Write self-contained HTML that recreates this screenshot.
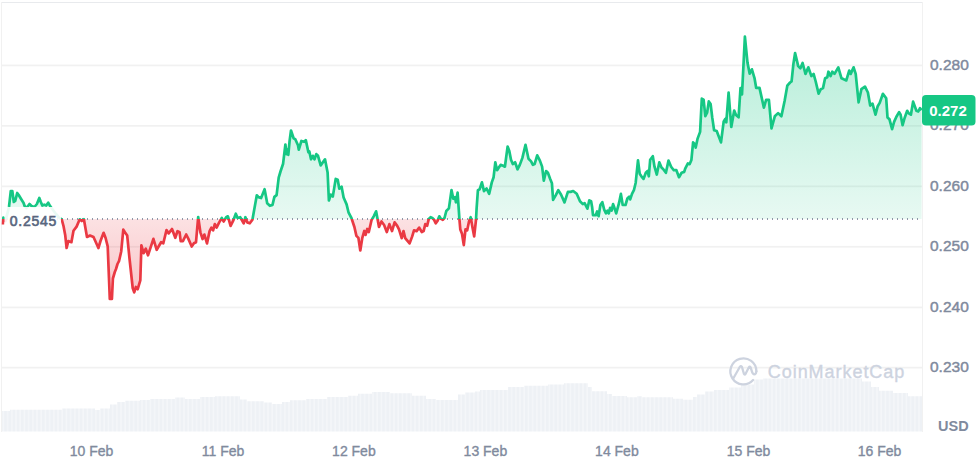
<!DOCTYPE html>
<html><head><meta charset="utf-8">
<style>
html,body{margin:0;padding:0;background:#fff;width:978px;height:458px;overflow:hidden}
svg{display:block}
text{font-family:"Liberation Sans",sans-serif}
.yl{font-size:15.5px;fill:#808a9d;stroke:#808a9d;stroke-width:0.45px}
.xl{font-size:14px;fill:#808a9d;stroke:#808a9d;stroke-width:0.35px}
</style></head><body>
<svg width="978" height="458" viewBox="0 0 978 458">
<defs>
<linearGradient id="gg" x1="0" y1="36" x2="0" y2="219.1" gradientUnits="userSpaceOnUse">
<stop offset="0" stop-color="#16c784" stop-opacity="0.32"/>
<stop offset="1" stop-color="#16c784" stop-opacity="0.1"/>
</linearGradient>
<linearGradient id="rg" x1="0" y1="219.1" x2="0" y2="299" gradientUnits="userSpaceOnUse">
<stop offset="0" stop-color="#ea3943" stop-opacity="0.15"/>
<stop offset="1" stop-color="#ea3943" stop-opacity="0.3"/>
</linearGradient>
<clipPath id="up"><rect x="0" y="0" width="922" height="219.1"/></clipPath>
<clipPath id="dn"><rect x="0" y="219.1" width="922" height="240"/></clipPath>
<pattern id="vp" x="0" y="0" width="4.2" height="10" patternUnits="userSpaceOnUse">
<rect x="0" y="0" width="4.2" height="10" fill="#eef1f5"/>
<rect x="2.6" y="0" width="1.6" height="10" fill="#f4f6f9"/>
</pattern>
</defs>
<rect x="0" y="0" width="978" height="458" fill="#fff"/>
<rect x="1" y="2" width="922" height="1" fill="#e8eaed"/>
<rect x="1" y="2" width="1" height="430" fill="#f1f1f1"/>
<rect x="922" y="2" width="1" height="430" fill="#f1f1f1"/>
<path d="M2 431.5 L2 411 L10 411 L10 409.8 L62 409.8 L62 408.5 L95 408.5 L95 410 L100 410 L100 408.5 L110 408.5 L110 404.4 L117 404.4 L117 402 L125 402 L125 400.7 L140 400.7 L140 400 L150 400 L150 399 L175 399 L175 397.5 L185 397.5 L185 399 L200 399 L200 397 L215 397 L215 396.3 L240 396.3 L240 399.4 L247 399.4 L247 401.2 L264 401.2 L264 402.4 L272 402.4 L272 403.9 L282 403.9 L282 402 L290 402 L290 400.2 L306 400.2 L306 399 L327 399 L327 397 L348 397 L348 395.8 L358 395.8 L358 393.8 L372 393.8 L372 392 L390 392 L390 393.3 L412 393.3 L412 395.8 L426 395.8 L426 399 L436 399 L436 400 L458 400 L458 394.5 L465 394.5 L465 392.6 L475 392.6 L475 391.4 L480 391.4 L480 390 L508 390 L508 387 L524 387 L524 385.8 L548 385.8 L548 384.5 L564 384.5 L564 383.3 L588 383.3 L588 387 L592 387 L592 391.2 L607 391.2 L607 393.9 L612 393.9 L612 396 L627 396 L627 397.3 L637 397.3 L637 396.3 L642 396.3 L642 397.3 L673 397.3 L673 398.8 L683 398.8 L683 399.8 L693 399.8 L693 397 L697 397 L697 394.4 L705 394.4 L705 391.4 L714 391.4 L714 390 L729 390 L729 387.5 L741 387.5 L741 384.5 L754 384.5 L754 379.6 L763 379.6 L763 378.4 L862 378.4 L862 381.6 L871 381.6 L871 387 L879 387 L879 390.7 L893 390.7 L893 393.1 L908 393.1 L908 396.3 L922 396.3 L922 431.5 Z" fill="url(#vp)"/>
<rect x="2" y="64.60" width="920" height="1.7" fill="#f1f1f1"/>
<rect x="2" y="125.00" width="920" height="1.7" fill="#f1f1f1"/>
<rect x="2" y="185.50" width="920" height="1.7" fill="#f1f1f1"/>
<rect x="2" y="245.90" width="920" height="1.7" fill="#f1f1f1"/>
<rect x="2" y="306.60" width="920" height="1.7" fill="#f1f1f1"/>
<rect x="2" y="366.80" width="920" height="1.7" fill="#f1f1f1"/>
<path d="M3 224.5 L3.4 217.5 L5.5 221 L9 207 L10.8 191 L12.3 191 L13.8 202 L15.2 201 L17.2 193 L18.7 195 L21.1 199 L23.6 203 L24.6 206 L26.5 208 L29.5 204 L31.5 206 L34.4 207 L36.9 204 L39.3 198 L40.8 202 L42.3 205.6 L44.2 204.7 L46.2 205.6 L48.2 202.7 L50.1 206.1 L53 210 L56 214 L59 217.5 L61.7 219.3 L63.5 226 L65.2 234.9 L66.6 248 L68.3 241.1 L71.4 242.2 L73.5 230.7 L76.6 226.6 L79.7 219.3 L81.8 221 L83.9 219.3 L87 237 L90 235.5 L93.5 237 L96.3 243.2 L98.4 248 L100.5 241 L103.6 232.8 L105.6 238 L107.7 246.3 L109.8 299 L111.9 299 L112.9 278.5 L114.8 272 L116 269 L117.5 264 L119.1 260.8 L121.2 251.5 L123.3 229.7 L124.9 232.3 L127.2 235.6 L129.4 257.5 L132.7 288 L134.2 292.4 L135.9 287 L137.7 289.2 L140.3 280.4 L141.4 245.4 L143.6 253.1 L145.8 248.7 L148 255.3 L153.4 238.9 L156.7 249.8 L161.1 242.2 L163.3 243.3 L166.5 230.1 L168.7 233.4 L172 229 L175.3 237.8 L177.5 231.2 L179.6 232.3 L180.7 241.1 L182.9 241.1 L186.2 234.5 L188.4 238.9 L191.7 246.5 L193.9 243.3 L196 242.2 L198.2 217 L200.4 232.3 L202.6 239 L204.4 234.6 L207 243.4 L209.6 231.1 L211.4 227.6 L213.1 230.3 L214.8 224.1 L216.6 227.6 L219.2 222.4 L221.8 218 L223.6 221.5 L226.2 217.2 L227.9 216.3 L230.6 225.9 L233.2 220.7 L235.8 213.7 L237.6 218 L240.2 217.2 L243.7 223.3 L245.4 217.2 L247.2 222.4 L249.8 223.3 L252.4 219.8 L256.8 195.3 L258.5 197.1 L261.1 198 L264.6 189.2 L267.2 203.2 L269.9 205.8 L272.5 204.9 L274.4 196.9 L276.6 195.1 L278.7 177.6 L280.5 171.5 L283.1 163.7 L285.4 144.5 L286.6 154.1 L287.5 149.7 L288.3 154.9 L289.6 141 L291 130.5 L293.6 138.3 L295.3 139.2 L298 145.3 L298.8 149.7 L301.4 141 L304.1 141.8 L305.8 140.1 L308.4 152.3 L309.3 151.4 L311 159.3 L312.8 155.8 L314.5 159.3 L316.3 154.1 L318 155.8 L320.7 165.4 L325 159.3 L327.6 172.4 L328.9 200.5 L330.8 194.6 L332.8 196.6 L335.7 178.9 L337.7 179.8 L339.3 188.7 L341.6 186.7 L343.6 197.5 L346.6 204.4 L348.5 212.3 L351.5 218.2 L354.4 227 L356.4 235.9 L358.4 237.9 L360.3 250.5 L362.3 237.9 L364.3 231 L365.6 234.9 L367.2 229 L368.8 232 L371.5 220.2 L373.7 216.3 L376.1 211.3 L377.4 218.2 L379 227 L381.5 221.5 L384.1 225 L386.8 232 L389.4 224.1 L392 231.1 L394.6 222.4 L397.2 225.9 L399 229.4 L401.7 238.1 L403.5 231.1 L405.2 238.1 L409.6 243.4 L412.2 236.4 L414 230.3 L416.6 231.1 L419.2 227.6 L421.8 232 L423.6 231.1 L425.3 224.1 L427.1 225.9 L428.8 218.9 L430.6 217.2 L432.3 218 L434.1 219.8 L435.8 223.3 L437.6 220.7 L439.3 216.3 L441 218.9 L442.8 219.8 L444.5 218 L446.3 211 L448.9 208.4 L451.5 190.1 L453.3 198.8 L455 197.1 L455.9 202.3 L457.6 192.7 L459.4 218.9 L460.3 229.4 L462 233.8 L463.8 245.1 L465.5 229.4 L467.2 230.3 L469 221.5 L470.7 217.2 L472.5 227.6 L474.2 236.4 L476 219.8 L476.6 208.6 L477.9 190.3 L479.6 189.4 L481.9 182.4 L484 191.1 L486.6 188.5 L489.2 193.8 L491.8 182.4 L493.6 177.2 L495.3 162.3 L497.1 170.2 L498.8 167.6 L500.6 164.9 L503.2 165.8 L504.9 166.7 L507.6 146.6 L509.3 151 L511 159.7 L512.8 164.1 L515.1 162.3 L517.5 169.3 L519.8 164.9 L522.4 157.9 L525.5 144.8 L528.5 158.8 L531.1 161.4 L532.9 164.9 L534.6 164.1 L537.2 155.3 L539.9 160.6 L542.1 166.6 L543.8 180.6 L546.1 171 L547.9 172.7 L550.1 178.8 L551.9 183.2 L553.1 199.8 L555.7 195.4 L558.3 190.2 L561 194.5 L564.5 202.4 L567.9 191.9 L570.6 191.9 L573.2 191 L576.7 193.7 L580 201.3 L582.8 204.1 L584.6 203.2 L587.4 208.7 L589.3 200.4 L591.1 201.3 L592.1 206.9 L593 215.2 L595.8 215.2 L597.1 211.5 L598.6 216.2 L600.4 205 L602.3 202.2 L604.2 209.7 L606 213.4 L607.5 210.6 L608.8 213.4 L610.1 207.8 L611.6 210.6 L613.1 204.1 L614.4 207.8 L616.2 213.4 L619 203.2 L620.9 193.9 L622.7 205 L625.5 205 L627.4 198.5 L629.2 196.7 L630.2 199.4 L632 193.9 L633.9 190.2 L635.7 182.7 L638 160.4 L639.7 173.7 L641.4 176.3 L643.5 178.9 L645.8 172.8 L647.6 171 L648.8 176.3 L650.2 159.7 L652.8 156.2 L654.5 166.7 L656.8 174.5 L659.3 162.3 L661.5 167.6 L663.3 169.3 L665.9 172.8 L668.5 160.6 L671.1 166.7 L673.8 170.2 L676.4 170.2 L679 177.2 L681.6 172.8 L684.2 171.9 L685.2 168.6 L687.9 163.4 L689.6 164.2 L691.4 159.9 L693.1 142.4 L694.8 144.1 L695.7 147.6 L697.5 138.9 L700.1 131.9 L701.8 98.7 L703.6 99.6 L705.3 116.2 L707.1 112.7 L708.8 101.4 L710.6 104 L712.3 117.9 L714.1 130.2 L716.7 131 L718.4 135.4 L721 142.4 L723.7 121.4 L725.4 118.8 L726.3 122.3 L728.6 92.6 L731.3 127 L734.2 110.5 L736 115 L738.6 117.3 L740.5 88 L742 94.5 L744.9 36.6 L747.5 62.8 L749.7 73.7 L751.9 69.3 L754.5 78.1 L756.2 87.9 L759.5 87.9 L763.9 107.6 L766.1 99.9 L768.9 99.9 L771.5 128.4 L774.8 116.3 L778.1 113.1 L781.4 116.3 L784.6 101 L787.3 85.7 L790.1 82.5 L791.6 81.4 L793.4 63.9 L795.1 53 L798.2 66.1 L800.4 68.3 L802.6 63 L805.5 73.9 L808.3 67.3 L811.4 76.1 L813.6 73.9 L815.7 81.5 L818.6 93.6 L820.8 89.2 L823 88.1 L825.1 78.3 L827.3 77.2 L828.4 71.7 L830.6 76.1 L832.3 71.7 L834.5 73.9 L838.3 67.3 L841.5 78.3 L843.7 79.3 L846.3 80.4 L849.2 70.6 L850.7 73.9 L853.6 67.3 L855.7 73.9 L858.6 102.3 L861.4 89.2 L865 86.6 L867.9 92.5 L870.2 105.6 L872.5 103.6 L875.5 114.7 L877.7 106.2 L879.7 102.9 L882.9 93.8 L886.2 98.3 L887.5 117.4 L889.5 119.3 L892.1 129.1 L894.1 121.9 L896.4 116.7 L899.1 112.1 L900.6 114.7 L902.6 125.2 L904.6 118 L907.2 110.8 L908.8 113.4 L910.9 114.7 L913.1 101.6 L916.4 110.8 L918.3 111.5 L920 108.2 L921.6 110.1 L921.6 219.1 L3 219.1 Z" fill="url(#gg)" clip-path="url(#up)"/>
<path d="M3 224.5 L3.4 217.5 L5.5 221 L9 207 L10.8 191 L12.3 191 L13.8 202 L15.2 201 L17.2 193 L18.7 195 L21.1 199 L23.6 203 L24.6 206 L26.5 208 L29.5 204 L31.5 206 L34.4 207 L36.9 204 L39.3 198 L40.8 202 L42.3 205.6 L44.2 204.7 L46.2 205.6 L48.2 202.7 L50.1 206.1 L53 210 L56 214 L59 217.5 L61.7 219.3 L63.5 226 L65.2 234.9 L66.6 248 L68.3 241.1 L71.4 242.2 L73.5 230.7 L76.6 226.6 L79.7 219.3 L81.8 221 L83.9 219.3 L87 237 L90 235.5 L93.5 237 L96.3 243.2 L98.4 248 L100.5 241 L103.6 232.8 L105.6 238 L107.7 246.3 L109.8 299 L111.9 299 L112.9 278.5 L114.8 272 L116 269 L117.5 264 L119.1 260.8 L121.2 251.5 L123.3 229.7 L124.9 232.3 L127.2 235.6 L129.4 257.5 L132.7 288 L134.2 292.4 L135.9 287 L137.7 289.2 L140.3 280.4 L141.4 245.4 L143.6 253.1 L145.8 248.7 L148 255.3 L153.4 238.9 L156.7 249.8 L161.1 242.2 L163.3 243.3 L166.5 230.1 L168.7 233.4 L172 229 L175.3 237.8 L177.5 231.2 L179.6 232.3 L180.7 241.1 L182.9 241.1 L186.2 234.5 L188.4 238.9 L191.7 246.5 L193.9 243.3 L196 242.2 L198.2 217 L200.4 232.3 L202.6 239 L204.4 234.6 L207 243.4 L209.6 231.1 L211.4 227.6 L213.1 230.3 L214.8 224.1 L216.6 227.6 L219.2 222.4 L221.8 218 L223.6 221.5 L226.2 217.2 L227.9 216.3 L230.6 225.9 L233.2 220.7 L235.8 213.7 L237.6 218 L240.2 217.2 L243.7 223.3 L245.4 217.2 L247.2 222.4 L249.8 223.3 L252.4 219.8 L256.8 195.3 L258.5 197.1 L261.1 198 L264.6 189.2 L267.2 203.2 L269.9 205.8 L272.5 204.9 L274.4 196.9 L276.6 195.1 L278.7 177.6 L280.5 171.5 L283.1 163.7 L285.4 144.5 L286.6 154.1 L287.5 149.7 L288.3 154.9 L289.6 141 L291 130.5 L293.6 138.3 L295.3 139.2 L298 145.3 L298.8 149.7 L301.4 141 L304.1 141.8 L305.8 140.1 L308.4 152.3 L309.3 151.4 L311 159.3 L312.8 155.8 L314.5 159.3 L316.3 154.1 L318 155.8 L320.7 165.4 L325 159.3 L327.6 172.4 L328.9 200.5 L330.8 194.6 L332.8 196.6 L335.7 178.9 L337.7 179.8 L339.3 188.7 L341.6 186.7 L343.6 197.5 L346.6 204.4 L348.5 212.3 L351.5 218.2 L354.4 227 L356.4 235.9 L358.4 237.9 L360.3 250.5 L362.3 237.9 L364.3 231 L365.6 234.9 L367.2 229 L368.8 232 L371.5 220.2 L373.7 216.3 L376.1 211.3 L377.4 218.2 L379 227 L381.5 221.5 L384.1 225 L386.8 232 L389.4 224.1 L392 231.1 L394.6 222.4 L397.2 225.9 L399 229.4 L401.7 238.1 L403.5 231.1 L405.2 238.1 L409.6 243.4 L412.2 236.4 L414 230.3 L416.6 231.1 L419.2 227.6 L421.8 232 L423.6 231.1 L425.3 224.1 L427.1 225.9 L428.8 218.9 L430.6 217.2 L432.3 218 L434.1 219.8 L435.8 223.3 L437.6 220.7 L439.3 216.3 L441 218.9 L442.8 219.8 L444.5 218 L446.3 211 L448.9 208.4 L451.5 190.1 L453.3 198.8 L455 197.1 L455.9 202.3 L457.6 192.7 L459.4 218.9 L460.3 229.4 L462 233.8 L463.8 245.1 L465.5 229.4 L467.2 230.3 L469 221.5 L470.7 217.2 L472.5 227.6 L474.2 236.4 L476 219.8 L476.6 208.6 L477.9 190.3 L479.6 189.4 L481.9 182.4 L484 191.1 L486.6 188.5 L489.2 193.8 L491.8 182.4 L493.6 177.2 L495.3 162.3 L497.1 170.2 L498.8 167.6 L500.6 164.9 L503.2 165.8 L504.9 166.7 L507.6 146.6 L509.3 151 L511 159.7 L512.8 164.1 L515.1 162.3 L517.5 169.3 L519.8 164.9 L522.4 157.9 L525.5 144.8 L528.5 158.8 L531.1 161.4 L532.9 164.9 L534.6 164.1 L537.2 155.3 L539.9 160.6 L542.1 166.6 L543.8 180.6 L546.1 171 L547.9 172.7 L550.1 178.8 L551.9 183.2 L553.1 199.8 L555.7 195.4 L558.3 190.2 L561 194.5 L564.5 202.4 L567.9 191.9 L570.6 191.9 L573.2 191 L576.7 193.7 L580 201.3 L582.8 204.1 L584.6 203.2 L587.4 208.7 L589.3 200.4 L591.1 201.3 L592.1 206.9 L593 215.2 L595.8 215.2 L597.1 211.5 L598.6 216.2 L600.4 205 L602.3 202.2 L604.2 209.7 L606 213.4 L607.5 210.6 L608.8 213.4 L610.1 207.8 L611.6 210.6 L613.1 204.1 L614.4 207.8 L616.2 213.4 L619 203.2 L620.9 193.9 L622.7 205 L625.5 205 L627.4 198.5 L629.2 196.7 L630.2 199.4 L632 193.9 L633.9 190.2 L635.7 182.7 L638 160.4 L639.7 173.7 L641.4 176.3 L643.5 178.9 L645.8 172.8 L647.6 171 L648.8 176.3 L650.2 159.7 L652.8 156.2 L654.5 166.7 L656.8 174.5 L659.3 162.3 L661.5 167.6 L663.3 169.3 L665.9 172.8 L668.5 160.6 L671.1 166.7 L673.8 170.2 L676.4 170.2 L679 177.2 L681.6 172.8 L684.2 171.9 L685.2 168.6 L687.9 163.4 L689.6 164.2 L691.4 159.9 L693.1 142.4 L694.8 144.1 L695.7 147.6 L697.5 138.9 L700.1 131.9 L701.8 98.7 L703.6 99.6 L705.3 116.2 L707.1 112.7 L708.8 101.4 L710.6 104 L712.3 117.9 L714.1 130.2 L716.7 131 L718.4 135.4 L721 142.4 L723.7 121.4 L725.4 118.8 L726.3 122.3 L728.6 92.6 L731.3 127 L734.2 110.5 L736 115 L738.6 117.3 L740.5 88 L742 94.5 L744.9 36.6 L747.5 62.8 L749.7 73.7 L751.9 69.3 L754.5 78.1 L756.2 87.9 L759.5 87.9 L763.9 107.6 L766.1 99.9 L768.9 99.9 L771.5 128.4 L774.8 116.3 L778.1 113.1 L781.4 116.3 L784.6 101 L787.3 85.7 L790.1 82.5 L791.6 81.4 L793.4 63.9 L795.1 53 L798.2 66.1 L800.4 68.3 L802.6 63 L805.5 73.9 L808.3 67.3 L811.4 76.1 L813.6 73.9 L815.7 81.5 L818.6 93.6 L820.8 89.2 L823 88.1 L825.1 78.3 L827.3 77.2 L828.4 71.7 L830.6 76.1 L832.3 71.7 L834.5 73.9 L838.3 67.3 L841.5 78.3 L843.7 79.3 L846.3 80.4 L849.2 70.6 L850.7 73.9 L853.6 67.3 L855.7 73.9 L858.6 102.3 L861.4 89.2 L865 86.6 L867.9 92.5 L870.2 105.6 L872.5 103.6 L875.5 114.7 L877.7 106.2 L879.7 102.9 L882.9 93.8 L886.2 98.3 L887.5 117.4 L889.5 119.3 L892.1 129.1 L894.1 121.9 L896.4 116.7 L899.1 112.1 L900.6 114.7 L902.6 125.2 L904.6 118 L907.2 110.8 L908.8 113.4 L910.9 114.7 L913.1 101.6 L916.4 110.8 L918.3 111.5 L920 108.2 L921.6 110.1 L921.6 219.1 L3 219.1 Z" fill="url(#rg)" clip-path="url(#dn)"/>
<g transform="translate(743.4 371.3)" fill="none" stroke="#cdd3df" stroke-width="2.3" stroke-linecap="round" stroke-linejoin="round">
<path d="M13 0 A13 13 0 1 0 9.7 8.7"/>
<path d="M-10 7 L-3.5 -4.5 Q-2.5 -6 -1.5 -4.5 L0.5 2.5 Q1.2 4 2.2 2.5 L5.5 -4 Q6.3 -5.5 7.2 -4 L9 1.5 Q10.5 4.5 12.5 2 L13 0"/>
</g>
<text x="767.8" y="377.8" font-size="18" fill="#cdd3df" stroke="#cdd3df" stroke-width="0.35" letter-spacing="0.95">CoinMarketCap</text>
<line x1="2" y1="219" x2="921" y2="219" stroke="#8f97a8" stroke-width="2" stroke-dasharray="1 4"/>
<path d="M3 224.5 L3.4 217.5 L5.5 221 L9 207 L10.8 191 L12.3 191 L13.8 202 L15.2 201 L17.2 193 L18.7 195 L21.1 199 L23.6 203 L24.6 206 L26.5 208 L29.5 204 L31.5 206 L34.4 207 L36.9 204 L39.3 198 L40.8 202 L42.3 205.6 L44.2 204.7 L46.2 205.6 L48.2 202.7 L50.1 206.1 L53 210 L56 214 L59 217.5 L61.7 219.3 L63.5 226 L65.2 234.9 L66.6 248 L68.3 241.1 L71.4 242.2 L73.5 230.7 L76.6 226.6 L79.7 219.3 L81.8 221 L83.9 219.3 L87 237 L90 235.5 L93.5 237 L96.3 243.2 L98.4 248 L100.5 241 L103.6 232.8 L105.6 238 L107.7 246.3 L109.8 299 L111.9 299 L112.9 278.5 L114.8 272 L116 269 L117.5 264 L119.1 260.8 L121.2 251.5 L123.3 229.7 L124.9 232.3 L127.2 235.6 L129.4 257.5 L132.7 288 L134.2 292.4 L135.9 287 L137.7 289.2 L140.3 280.4 L141.4 245.4 L143.6 253.1 L145.8 248.7 L148 255.3 L153.4 238.9 L156.7 249.8 L161.1 242.2 L163.3 243.3 L166.5 230.1 L168.7 233.4 L172 229 L175.3 237.8 L177.5 231.2 L179.6 232.3 L180.7 241.1 L182.9 241.1 L186.2 234.5 L188.4 238.9 L191.7 246.5 L193.9 243.3 L196 242.2 L198.2 217 L200.4 232.3 L202.6 239 L204.4 234.6 L207 243.4 L209.6 231.1 L211.4 227.6 L213.1 230.3 L214.8 224.1 L216.6 227.6 L219.2 222.4 L221.8 218 L223.6 221.5 L226.2 217.2 L227.9 216.3 L230.6 225.9 L233.2 220.7 L235.8 213.7 L237.6 218 L240.2 217.2 L243.7 223.3 L245.4 217.2 L247.2 222.4 L249.8 223.3 L252.4 219.8 L256.8 195.3 L258.5 197.1 L261.1 198 L264.6 189.2 L267.2 203.2 L269.9 205.8 L272.5 204.9 L274.4 196.9 L276.6 195.1 L278.7 177.6 L280.5 171.5 L283.1 163.7 L285.4 144.5 L286.6 154.1 L287.5 149.7 L288.3 154.9 L289.6 141 L291 130.5 L293.6 138.3 L295.3 139.2 L298 145.3 L298.8 149.7 L301.4 141 L304.1 141.8 L305.8 140.1 L308.4 152.3 L309.3 151.4 L311 159.3 L312.8 155.8 L314.5 159.3 L316.3 154.1 L318 155.8 L320.7 165.4 L325 159.3 L327.6 172.4 L328.9 200.5 L330.8 194.6 L332.8 196.6 L335.7 178.9 L337.7 179.8 L339.3 188.7 L341.6 186.7 L343.6 197.5 L346.6 204.4 L348.5 212.3 L351.5 218.2 L354.4 227 L356.4 235.9 L358.4 237.9 L360.3 250.5 L362.3 237.9 L364.3 231 L365.6 234.9 L367.2 229 L368.8 232 L371.5 220.2 L373.7 216.3 L376.1 211.3 L377.4 218.2 L379 227 L381.5 221.5 L384.1 225 L386.8 232 L389.4 224.1 L392 231.1 L394.6 222.4 L397.2 225.9 L399 229.4 L401.7 238.1 L403.5 231.1 L405.2 238.1 L409.6 243.4 L412.2 236.4 L414 230.3 L416.6 231.1 L419.2 227.6 L421.8 232 L423.6 231.1 L425.3 224.1 L427.1 225.9 L428.8 218.9 L430.6 217.2 L432.3 218 L434.1 219.8 L435.8 223.3 L437.6 220.7 L439.3 216.3 L441 218.9 L442.8 219.8 L444.5 218 L446.3 211 L448.9 208.4 L451.5 190.1 L453.3 198.8 L455 197.1 L455.9 202.3 L457.6 192.7 L459.4 218.9 L460.3 229.4 L462 233.8 L463.8 245.1 L465.5 229.4 L467.2 230.3 L469 221.5 L470.7 217.2 L472.5 227.6 L474.2 236.4 L476 219.8 L476.6 208.6 L477.9 190.3 L479.6 189.4 L481.9 182.4 L484 191.1 L486.6 188.5 L489.2 193.8 L491.8 182.4 L493.6 177.2 L495.3 162.3 L497.1 170.2 L498.8 167.6 L500.6 164.9 L503.2 165.8 L504.9 166.7 L507.6 146.6 L509.3 151 L511 159.7 L512.8 164.1 L515.1 162.3 L517.5 169.3 L519.8 164.9 L522.4 157.9 L525.5 144.8 L528.5 158.8 L531.1 161.4 L532.9 164.9 L534.6 164.1 L537.2 155.3 L539.9 160.6 L542.1 166.6 L543.8 180.6 L546.1 171 L547.9 172.7 L550.1 178.8 L551.9 183.2 L553.1 199.8 L555.7 195.4 L558.3 190.2 L561 194.5 L564.5 202.4 L567.9 191.9 L570.6 191.9 L573.2 191 L576.7 193.7 L580 201.3 L582.8 204.1 L584.6 203.2 L587.4 208.7 L589.3 200.4 L591.1 201.3 L592.1 206.9 L593 215.2 L595.8 215.2 L597.1 211.5 L598.6 216.2 L600.4 205 L602.3 202.2 L604.2 209.7 L606 213.4 L607.5 210.6 L608.8 213.4 L610.1 207.8 L611.6 210.6 L613.1 204.1 L614.4 207.8 L616.2 213.4 L619 203.2 L620.9 193.9 L622.7 205 L625.5 205 L627.4 198.5 L629.2 196.7 L630.2 199.4 L632 193.9 L633.9 190.2 L635.7 182.7 L638 160.4 L639.7 173.7 L641.4 176.3 L643.5 178.9 L645.8 172.8 L647.6 171 L648.8 176.3 L650.2 159.7 L652.8 156.2 L654.5 166.7 L656.8 174.5 L659.3 162.3 L661.5 167.6 L663.3 169.3 L665.9 172.8 L668.5 160.6 L671.1 166.7 L673.8 170.2 L676.4 170.2 L679 177.2 L681.6 172.8 L684.2 171.9 L685.2 168.6 L687.9 163.4 L689.6 164.2 L691.4 159.9 L693.1 142.4 L694.8 144.1 L695.7 147.6 L697.5 138.9 L700.1 131.9 L701.8 98.7 L703.6 99.6 L705.3 116.2 L707.1 112.7 L708.8 101.4 L710.6 104 L712.3 117.9 L714.1 130.2 L716.7 131 L718.4 135.4 L721 142.4 L723.7 121.4 L725.4 118.8 L726.3 122.3 L728.6 92.6 L731.3 127 L734.2 110.5 L736 115 L738.6 117.3 L740.5 88 L742 94.5 L744.9 36.6 L747.5 62.8 L749.7 73.7 L751.9 69.3 L754.5 78.1 L756.2 87.9 L759.5 87.9 L763.9 107.6 L766.1 99.9 L768.9 99.9 L771.5 128.4 L774.8 116.3 L778.1 113.1 L781.4 116.3 L784.6 101 L787.3 85.7 L790.1 82.5 L791.6 81.4 L793.4 63.9 L795.1 53 L798.2 66.1 L800.4 68.3 L802.6 63 L805.5 73.9 L808.3 67.3 L811.4 76.1 L813.6 73.9 L815.7 81.5 L818.6 93.6 L820.8 89.2 L823 88.1 L825.1 78.3 L827.3 77.2 L828.4 71.7 L830.6 76.1 L832.3 71.7 L834.5 73.9 L838.3 67.3 L841.5 78.3 L843.7 79.3 L846.3 80.4 L849.2 70.6 L850.7 73.9 L853.6 67.3 L855.7 73.9 L858.6 102.3 L861.4 89.2 L865 86.6 L867.9 92.5 L870.2 105.6 L872.5 103.6 L875.5 114.7 L877.7 106.2 L879.7 102.9 L882.9 93.8 L886.2 98.3 L887.5 117.4 L889.5 119.3 L892.1 129.1 L894.1 121.9 L896.4 116.7 L899.1 112.1 L900.6 114.7 L902.6 125.2 L904.6 118 L907.2 110.8 L908.8 113.4 L910.9 114.7 L913.1 101.6 L916.4 110.8 L918.3 111.5 L920 108.2 L921.6 110.1" fill="none" stroke="#16c784" stroke-width="2.7" stroke-linejoin="round" clip-path="url(#up)"/>
<path d="M3 224.5 L3.4 217.5 L5.5 221 L9 207 L10.8 191 L12.3 191 L13.8 202 L15.2 201 L17.2 193 L18.7 195 L21.1 199 L23.6 203 L24.6 206 L26.5 208 L29.5 204 L31.5 206 L34.4 207 L36.9 204 L39.3 198 L40.8 202 L42.3 205.6 L44.2 204.7 L46.2 205.6 L48.2 202.7 L50.1 206.1 L53 210 L56 214 L59 217.5 L61.7 219.3 L63.5 226 L65.2 234.9 L66.6 248 L68.3 241.1 L71.4 242.2 L73.5 230.7 L76.6 226.6 L79.7 219.3 L81.8 221 L83.9 219.3 L87 237 L90 235.5 L93.5 237 L96.3 243.2 L98.4 248 L100.5 241 L103.6 232.8 L105.6 238 L107.7 246.3 L109.8 299 L111.9 299 L112.9 278.5 L114.8 272 L116 269 L117.5 264 L119.1 260.8 L121.2 251.5 L123.3 229.7 L124.9 232.3 L127.2 235.6 L129.4 257.5 L132.7 288 L134.2 292.4 L135.9 287 L137.7 289.2 L140.3 280.4 L141.4 245.4 L143.6 253.1 L145.8 248.7 L148 255.3 L153.4 238.9 L156.7 249.8 L161.1 242.2 L163.3 243.3 L166.5 230.1 L168.7 233.4 L172 229 L175.3 237.8 L177.5 231.2 L179.6 232.3 L180.7 241.1 L182.9 241.1 L186.2 234.5 L188.4 238.9 L191.7 246.5 L193.9 243.3 L196 242.2 L198.2 217 L200.4 232.3 L202.6 239 L204.4 234.6 L207 243.4 L209.6 231.1 L211.4 227.6 L213.1 230.3 L214.8 224.1 L216.6 227.6 L219.2 222.4 L221.8 218 L223.6 221.5 L226.2 217.2 L227.9 216.3 L230.6 225.9 L233.2 220.7 L235.8 213.7 L237.6 218 L240.2 217.2 L243.7 223.3 L245.4 217.2 L247.2 222.4 L249.8 223.3 L252.4 219.8 L256.8 195.3 L258.5 197.1 L261.1 198 L264.6 189.2 L267.2 203.2 L269.9 205.8 L272.5 204.9 L274.4 196.9 L276.6 195.1 L278.7 177.6 L280.5 171.5 L283.1 163.7 L285.4 144.5 L286.6 154.1 L287.5 149.7 L288.3 154.9 L289.6 141 L291 130.5 L293.6 138.3 L295.3 139.2 L298 145.3 L298.8 149.7 L301.4 141 L304.1 141.8 L305.8 140.1 L308.4 152.3 L309.3 151.4 L311 159.3 L312.8 155.8 L314.5 159.3 L316.3 154.1 L318 155.8 L320.7 165.4 L325 159.3 L327.6 172.4 L328.9 200.5 L330.8 194.6 L332.8 196.6 L335.7 178.9 L337.7 179.8 L339.3 188.7 L341.6 186.7 L343.6 197.5 L346.6 204.4 L348.5 212.3 L351.5 218.2 L354.4 227 L356.4 235.9 L358.4 237.9 L360.3 250.5 L362.3 237.9 L364.3 231 L365.6 234.9 L367.2 229 L368.8 232 L371.5 220.2 L373.7 216.3 L376.1 211.3 L377.4 218.2 L379 227 L381.5 221.5 L384.1 225 L386.8 232 L389.4 224.1 L392 231.1 L394.6 222.4 L397.2 225.9 L399 229.4 L401.7 238.1 L403.5 231.1 L405.2 238.1 L409.6 243.4 L412.2 236.4 L414 230.3 L416.6 231.1 L419.2 227.6 L421.8 232 L423.6 231.1 L425.3 224.1 L427.1 225.9 L428.8 218.9 L430.6 217.2 L432.3 218 L434.1 219.8 L435.8 223.3 L437.6 220.7 L439.3 216.3 L441 218.9 L442.8 219.8 L444.5 218 L446.3 211 L448.9 208.4 L451.5 190.1 L453.3 198.8 L455 197.1 L455.9 202.3 L457.6 192.7 L459.4 218.9 L460.3 229.4 L462 233.8 L463.8 245.1 L465.5 229.4 L467.2 230.3 L469 221.5 L470.7 217.2 L472.5 227.6 L474.2 236.4 L476 219.8 L476.6 208.6 L477.9 190.3 L479.6 189.4 L481.9 182.4 L484 191.1 L486.6 188.5 L489.2 193.8 L491.8 182.4 L493.6 177.2 L495.3 162.3 L497.1 170.2 L498.8 167.6 L500.6 164.9 L503.2 165.8 L504.9 166.7 L507.6 146.6 L509.3 151 L511 159.7 L512.8 164.1 L515.1 162.3 L517.5 169.3 L519.8 164.9 L522.4 157.9 L525.5 144.8 L528.5 158.8 L531.1 161.4 L532.9 164.9 L534.6 164.1 L537.2 155.3 L539.9 160.6 L542.1 166.6 L543.8 180.6 L546.1 171 L547.9 172.7 L550.1 178.8 L551.9 183.2 L553.1 199.8 L555.7 195.4 L558.3 190.2 L561 194.5 L564.5 202.4 L567.9 191.9 L570.6 191.9 L573.2 191 L576.7 193.7 L580 201.3 L582.8 204.1 L584.6 203.2 L587.4 208.7 L589.3 200.4 L591.1 201.3 L592.1 206.9 L593 215.2 L595.8 215.2 L597.1 211.5 L598.6 216.2 L600.4 205 L602.3 202.2 L604.2 209.7 L606 213.4 L607.5 210.6 L608.8 213.4 L610.1 207.8 L611.6 210.6 L613.1 204.1 L614.4 207.8 L616.2 213.4 L619 203.2 L620.9 193.9 L622.7 205 L625.5 205 L627.4 198.5 L629.2 196.7 L630.2 199.4 L632 193.9 L633.9 190.2 L635.7 182.7 L638 160.4 L639.7 173.7 L641.4 176.3 L643.5 178.9 L645.8 172.8 L647.6 171 L648.8 176.3 L650.2 159.7 L652.8 156.2 L654.5 166.7 L656.8 174.5 L659.3 162.3 L661.5 167.6 L663.3 169.3 L665.9 172.8 L668.5 160.6 L671.1 166.7 L673.8 170.2 L676.4 170.2 L679 177.2 L681.6 172.8 L684.2 171.9 L685.2 168.6 L687.9 163.4 L689.6 164.2 L691.4 159.9 L693.1 142.4 L694.8 144.1 L695.7 147.6 L697.5 138.9 L700.1 131.9 L701.8 98.7 L703.6 99.6 L705.3 116.2 L707.1 112.7 L708.8 101.4 L710.6 104 L712.3 117.9 L714.1 130.2 L716.7 131 L718.4 135.4 L721 142.4 L723.7 121.4 L725.4 118.8 L726.3 122.3 L728.6 92.6 L731.3 127 L734.2 110.5 L736 115 L738.6 117.3 L740.5 88 L742 94.5 L744.9 36.6 L747.5 62.8 L749.7 73.7 L751.9 69.3 L754.5 78.1 L756.2 87.9 L759.5 87.9 L763.9 107.6 L766.1 99.9 L768.9 99.9 L771.5 128.4 L774.8 116.3 L778.1 113.1 L781.4 116.3 L784.6 101 L787.3 85.7 L790.1 82.5 L791.6 81.4 L793.4 63.9 L795.1 53 L798.2 66.1 L800.4 68.3 L802.6 63 L805.5 73.9 L808.3 67.3 L811.4 76.1 L813.6 73.9 L815.7 81.5 L818.6 93.6 L820.8 89.2 L823 88.1 L825.1 78.3 L827.3 77.2 L828.4 71.7 L830.6 76.1 L832.3 71.7 L834.5 73.9 L838.3 67.3 L841.5 78.3 L843.7 79.3 L846.3 80.4 L849.2 70.6 L850.7 73.9 L853.6 67.3 L855.7 73.9 L858.6 102.3 L861.4 89.2 L865 86.6 L867.9 92.5 L870.2 105.6 L872.5 103.6 L875.5 114.7 L877.7 106.2 L879.7 102.9 L882.9 93.8 L886.2 98.3 L887.5 117.4 L889.5 119.3 L892.1 129.1 L894.1 121.9 L896.4 116.7 L899.1 112.1 L900.6 114.7 L902.6 125.2 L904.6 118 L907.2 110.8 L908.8 113.4 L910.9 114.7 L913.1 101.6 L916.4 110.8 L918.3 111.5 L920 108.2 L921.6 110.1" fill="none" stroke="#ea3943" stroke-width="2.7" stroke-linejoin="round" clip-path="url(#dn)"/>
<rect x="4.5" y="207" width="56.5" height="25" fill="#fff" fill-opacity="0.9"/>
<text x="9.8" y="225.6" font-size="14" fill="#58667e" stroke="#58667e" stroke-width="0.6" letter-spacing="0.75">0.2545</text>
<text x="930" y="70" class="yl">0.280</text>
<text x="930" y="130.4" class="yl">0.270</text>
<text x="930" y="190.9" class="yl">0.260</text>
<text x="930" y="251.3" class="yl">0.250</text>
<text x="930" y="312" class="yl">0.240</text>
<text x="930" y="372.2" class="yl">0.230</text>
<rect x="922" y="95" width="53.5" height="30.6" rx="4" fill="#16c784"/>
<text x="948" y="116" font-size="15" font-weight="bold" fill="#fff" text-anchor="middle">0.272</text>
<text x="938" y="431" font-size="14.5" font-weight="bold" fill="#808a9d">USD</text>
<text x="91.5" y="455.5" class="xl" text-anchor="middle">10 Feb</text>
<text x="223.1" y="455.5" class="xl" text-anchor="middle">11 Feb</text>
<text x="353.9" y="455.5" class="xl" text-anchor="middle">12 Feb</text>
<text x="485.4" y="455.5" class="xl" text-anchor="middle">13 Feb</text>
<text x="616.9" y="455.5" class="xl" text-anchor="middle">14 Feb</text>
<text x="748.5" y="455.5" class="xl" text-anchor="middle">15 Feb</text>
<text x="879.6" y="455.5" class="xl" text-anchor="middle">16 Feb</text>
</svg>
</body></html>
